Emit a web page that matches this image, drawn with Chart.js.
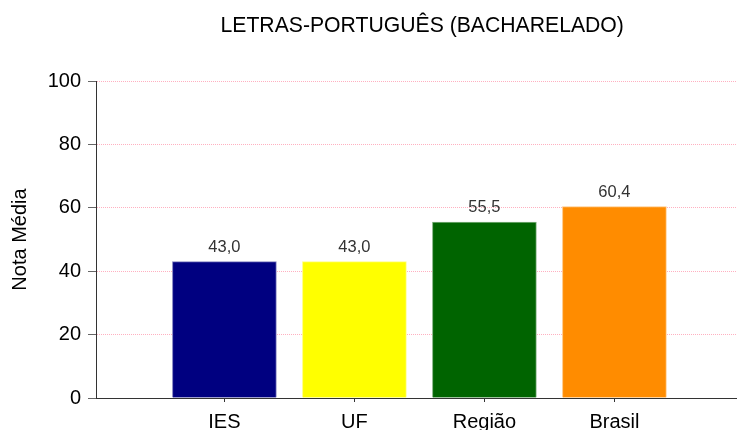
<!DOCTYPE html>
<html><head><meta charset="utf-8">
<script src="https://cdn.jsdelivr.net/npm/chart.js@4/dist/chart.umd.min.js"></script>
<style>html,body{margin:0;padding:0;background:#fff;overflow:hidden}canvas{display:block}</style>
</head><body>
<canvas id="c" width="737" height="430"></canvas>
<script>
const chartTitle = 'LETRAS-PORTUGUÊS (BACHARELADO)';
const yAxisTitle = 'Nota Média';
const categories = ['IES', 'UF', 'Região', 'Brasil'];
const notaMedia = [43.0, 43.0, 55.5, 60.4];
const yTickValues = [0, 20, 40, 60, 80, 100];
const barColors = ['#000080', '#FFFF00', '#006400', '#FF8C00'];
const barBorderColors = ['#8080c0', '#ffff80', '#80b280', '#ffc680'];

const FONT = '"Liberation Sans", Arial, Helvetica, sans-serif';
Chart.defaults.font.family = FONT;

const whiteBg = {
  id: 'whiteBg',
  beforeDraw(chart) {
    const ctx = chart.ctx;
    ctx.save();
    ctx.fillStyle = '#fff';
    ctx.fillRect(0, 0, chart.width, chart.height);
    ctx.restore();
  }
};
const titlePlugin = {
  id: 'titleP',
  afterDraw(chart) {
    const ctx = chart.ctx, a = chart.chartArea;
    ctx.save();
    ctx.font = '21.2px ' + FONT;
    ctx.fillStyle = '#000';
    ctx.textAlign = 'center';
    ctx.textBaseline = 'alphabetic';
    ctx.fillText(chartTitle, (a.left + a.right) / 2 + 5.7, 32);
    ctx.restore();
  }
};
const valueLabels = {
  id: 'valueLabels',
  afterDatasetsDraw(chart) {
    const ctx = chart.ctx;
    const meta = chart.getDatasetMeta(0);
    ctx.save();
    ctx.font = '16.5px ' + FONT;
    ctx.fillStyle = '#333';
    ctx.textAlign = 'center';
    ctx.textBaseline = 'alphabetic';
    meta.data.forEach((bar, i) => {
      ctx.fillText(notaMedia[i].toFixed(1).replace('.', ','), bar.x, bar.y - 10);
    });
    ctx.restore();
  }
};

new Chart(document.getElementById('c'), {
  type: 'bar',
  data: {
    datasets: [{
      data: categories.map((c, i) => ({ x: i + 1, y: notaMedia[i] })),
      backgroundColor: barColors,
      borderColor: barBorderColors,
      borderWidth: 1,
      barThickness: 104
    }]
  },
  options: {
    responsive: false,
    animation: false,
    devicePixelRatio: 1,
    layout: { padding: { top: 81, left: 0, right: 0, bottom: 0 } },
    plugins: { legend: { display: false }, tooltip: { enabled: false }, title: { display: false } },
    scales: {
      x: {
        type: 'linear',
        bounds: 'data',
        offset: false,
        min: 0.0123,
        max: 4.943,
        afterBuildTicks: s => { s.ticks = categories.map((c, i) => ({ value: i + 1 })); },
        afterFit: s => { s.height = 32; s.paddingLeft = 0; s.paddingRight = 0; },
        ticks: {
          callback: v => categories[v - 1] ?? '',
          font: { size: 20, family: FONT },
          color: '#000',
          padding: 8,
          maxRotation: 0,
          autoSkip: false
        },
        grid: { display: true, drawOnChartArea: false, drawTicks: true, offset: false, tickLength: 4, tickColor: '#333' },
        border: { display: true, color: '#333', width: 1 }
      },
      y: {
        min: 0,
        max: 100,
        afterBuildTicks: s => { s.ticks = yTickValues.map(v => ({ value: v })); },
        afterFit: s => { s.width = 96; },
        ticks: { font: { size: 20, family: FONT }, color: '#000', padding: 7 },
        grid: { color: '#ffb0c0', lineWidth: 1, drawTicks: true, tickLength: 8, tickColor: '#666' },
        border: { display: true, color: '#333', width: 1, dash: [1, 1] },
        title: { display: true, text: yAxisTitle, font: { size: 20, family: FONT }, color: '#000', padding: { top: 8, bottom: 0 } }
      }
    }
  },
  plugins: [whiteBg, titlePlugin, valueLabels]
});
</script>
</body></html>
